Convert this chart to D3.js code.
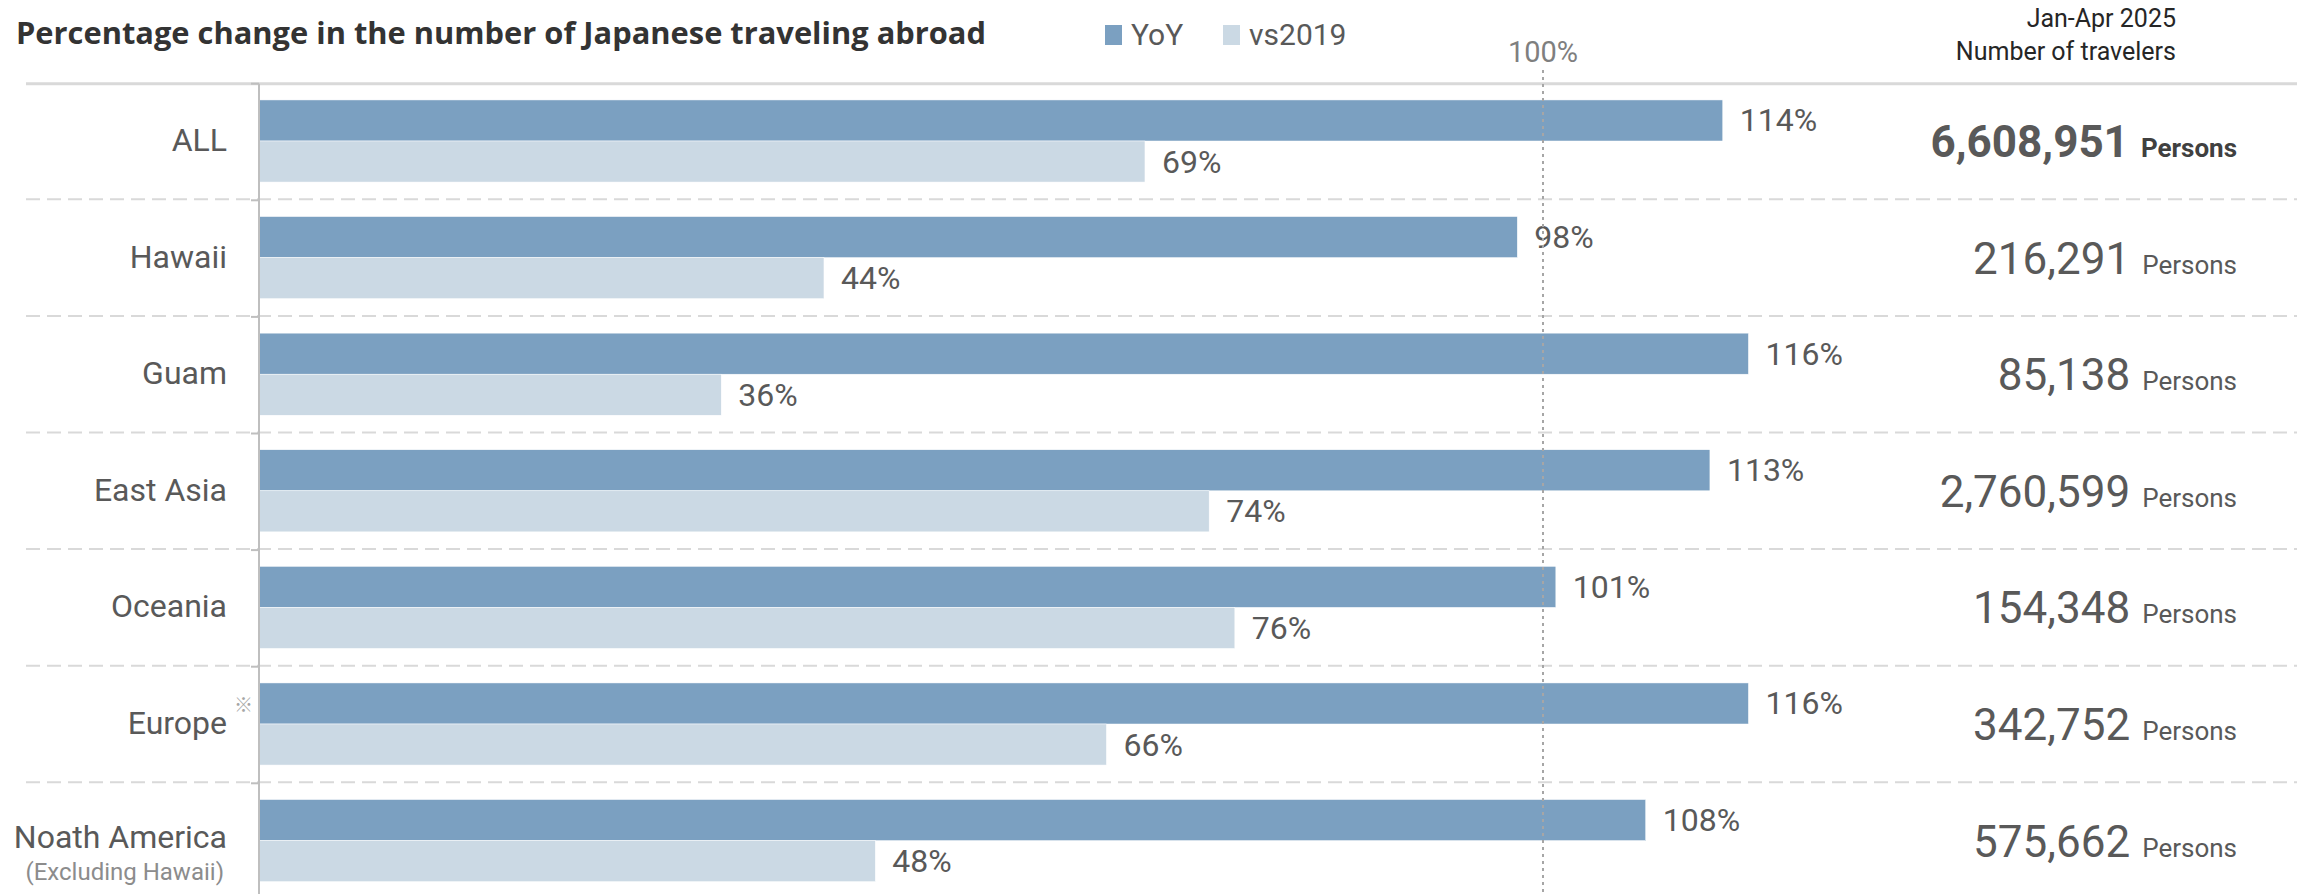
<!DOCTYPE html>
<html>
<head>
<meta charset="utf-8">
<script src="https://cdn.jsdelivr.net/npm/d3@7"></script>
<style>
  body { margin: 0; background: #fff; }
  svg { font-family: Roboto, "Noto Sans", sans-serif; }
</style>
</head>
<body>
<div class="canvas"></div>
<script>
const regions = ['ALL', 'Hawaii', 'Guam', 'East Asia', 'Oceania', 'Europe', 'Noath America'];
const yoy = [114, 98, 116, 113, 101, 116, 108];
const vs2019 = [69, 44, 36, 74, 76, 66, 48];
const travelers = [6608951, 216291, 85138, 2760599, 154348, 342752, 575662];
const seriesNames = ['YoY', 'vs2019'];
const seriesColors = ['#7ba0c1', '#cbd9e4'];

const width = 2297, height = 894, axisX = 259, refX = 1543, rowTop = 82.7, rowH = 116.6;

const rows = regions.map((r, i) => ({ region: r, yoy: yoy[i], vs2019: vs2019[i], n: travelers[i] }));

const svg = d3.select('.canvas')
    .append('svg')
    .attr('width', width)
    .attr('height', height)
    ;

const xScale = d3.scaleLinear()
    .domain([0, 100])
    .range([axisX, refX])
    ;

const yScale = d3.scaleBand()
    .domain(regions)
    .range([rowTop, rowTop + rowH * regions.length])
    .padding(0)
    ;

const subScale = d3.scaleBand()
    .domain(['yoy', 'vs2019'])
    .range([0, yScale.bandwidth()])
    .paddingInner(0)
    .paddingOuter(0.42)
    ;

//Title
const title = svg.append('text')
    .attr('x', 16)
    .attr('y', 44)
    .attr('font-size', 31)
    .attr('font-weight', 'bold')
    .attr('font-family', '"Open Sans", sans-serif')
    .attr('fill', '#333')
    .text('Percentage change in the number of Japanese traveling abroad');
if (Math.abs(title.node().getComputedTextLength() - 970) > 4) {
    title.attr('textLength', 970).attr('lengthAdjust', 'spacingAndGlyphs');
}

//Legend
seriesNames.forEach((s, i) => {
    const lx = [1105, 1223][i];
    svg.append('rect')
        .attr('x', lx).attr('y', 25).attr('width', 17).attr('height', 20)
        .attr('fill', seriesColors[i]);
    svg.append('text')
        .attr('x', lx + 26).attr('y', 45)
        .attr('font-size', 30)
        .attr('fill', '#595959')
        .text(s);
});

//Right header
svg.append('text')
    .attr('x', 2176).attr('y', 27)
    .attr('text-anchor', 'end')
    .attr('font-size', 25)
    .attr('fill', '#262626')
    .text('Jan-Apr 2025');
svg.append('text')
    .attr('x', 2176).attr('y', 60)
    .attr('text-anchor', 'end')
    .attr('font-size', 25)
    .attr('fill', '#262626')
    .text('Number of travelers');

//Top line
svg.append('line')
    .attr('x1', 26).attr('x2', width)
    .attr('y1', yScale.range()[0] + 1).attr('y2', yScale.range()[0] + 1)
    .attr('stroke', '#d9d9d9').attr('stroke-width', 3);

//Row separators
svg.selectAll('.sep')
    .data(regions.slice(1))
    .enter()
    .append('line')
    .attr('class', 'sep')
    .attr('x1', 26).attr('x2', width)
    .attr('y1', (d) => yScale(d)).attr('y2', (d) => yScale(d))
    .attr('stroke', '#d9d9d9').attr('stroke-width', 2)
    .attr('stroke-dasharray', '14,7');

//Bars
const g = svg.selectAll('.row')
    .data(rows)
    .enter()
    .append('g')
    .attr('class', 'row')
    .attr('transform', (d) => `translate(0, ${yScale(d.region)})`)
    ;

['yoy', 'vs2019'].forEach((k, i) => {
    g.append('rect')
        .attr('x', xScale(0))
        .attr('y', subScale(k))
        .attr('width', (d) => xScale(d[k]) - xScale(0))
        .attr('height', subScale.bandwidth())
        .attr('fill', seriesColors[i])
        .attr('stroke', '#fff').attr('stroke-width', 0.5);
    g.append('text')
        .attr('x', (d) => xScale(d[k]) + 17)
        .attr('y', subScale(k) + subScale.bandwidth() / 2 + 11)
        .attr('font-size', 32)
        .attr('fill', '#595959')
        .text((d) => d[k] + '%');
});

//Y axis
const yAxis = d3.axisLeft(yScale).tickSize(0).tickFormat('');
svg.append('g')
    .attr('transform', `translate(${axisX}, 0)`)
    .call(yAxis)
    .call(g => g.select('.domain').attr('stroke', '#bfbfbf').attr('stroke-width', 2).attr('d', `M0,${rowTop + 1}V${height}`))
    ;
svg.selectAll('.tk')
    .data(regions)
    .enter()
    .append('line')
    .attr('x1', axisX - 8).attr('x2', axisX)
    .attr('y1', (d) => yScale(d) + 1).attr('y2', (d) => yScale(d) + 1)
    .attr('stroke', '#bfbfbf').attr('stroke-width', 2);

//Category labels
g.append('text')
    .attr('x', 227)
    .attr('y', (d) => d.region === 'Noath America' ? yScale.bandwidth() / 2 + 7 : yScale.bandwidth() / 2 + 10)
    .attr('text-anchor', 'end')
    .attr('font-size', 32)
    .attr('fill', '#595959')
    .text((d) => d.region);
g.filter((d) => d.region === 'Noath America')
    .append('text')
    .attr('x', 224)
    .attr('y', yScale.bandwidth() / 2 + 39)
    .attr('text-anchor', 'end')
    .attr('font-size', 24)
    .attr('fill', '#8c8c8c')
    .text('(Excluding Hawaii)');
g.filter((d) => d.region === 'Europe')
    .append('text')
    .attr('x', 234)
    .attr('y', yScale.bandwidth() / 2 - 12)
    .attr('font-size', 19)
    .attr('font-family', '"Noto Sans CJK JP"')
    .attr('fill', '#a6a6a6')
    .text('※');

//100% reference line
svg.append('line')
    .attr('x1', xScale(100)).attr('x2', xScale(100))
    .attr('y1', 70).attr('y2', height)
    .attr('stroke', '#a6a6a6').attr('stroke-width', 2)
    .attr('stroke-dasharray', '3,4');
svg.append('text')
    .attr('x', xScale(100)).attr('y', 62)
    .attr('text-anchor', 'middle')
    .attr('font-size', 29)
    .attr('fill', '#7f7f7f')
    .text('100%');

//Traveler counts
const fmt = d3.format(',');
const nt = g.append('text')
    .attr('x', 2237)
    .attr('y', yScale.bandwidth() / 2 + 16)
    .attr('text-anchor', 'end')
    .attr('fill', '#595959')
    .attr('font-weight', (d) => d.region === 'ALL' ? 'bold' : 'normal')
    ;
nt.append('tspan').attr('font-size', 44).text((d) => fmt(d.n));
nt.append('tspan').attr('font-size', 26).attr('dx', 12)
    .attr('fill', (d) => d.region === 'ALL' ? '#404040' : '#595959')
    .text('Persons');
</script>
</body>
</html>
